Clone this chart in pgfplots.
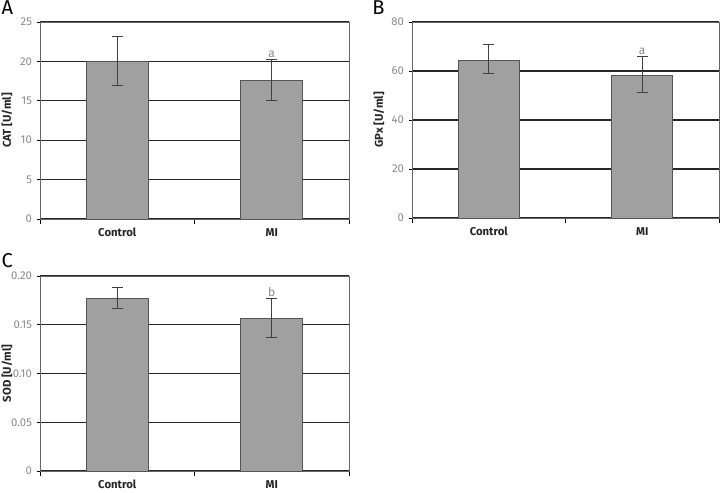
\documentclass[border=0pt]{standalone}
\usepackage{pgfplots}
\pgfplotsset{compat=1.18}
\usepackage{fontspec}
\setmainfont{Fira Sans}
\definecolor{barfill}{HTML}{A0A0A0}
\definecolor{bardraw}{HTML}{555555}
\definecolor{tickgray}{HTML}{8A8A8A}
\pgfplotsset{
  panel/.style={
    scale only axis,
    xmin=0, xmax=2, ymin=0,
    xtick={0.5,1.5},
    xticklabels={Control,MI},
    minor xtick={0,1,2},
    major x tick style={draw=none},
    minor x tick style={draw=black, line width=0.7pt},
    minor tick length=4pt,
    major tick length=2.5pt,
    tick align=outside,
    xtick pos=bottom, ytick pos=left,
    ymajorgrids,
    grid style={draw=black!85, line width=0.85pt},
    axis line style={draw=black!60, line width=0.7pt},
    y tick style={draw=black, line width=0.7pt},
    /pgf/number format/assume math mode=true,
    yticklabel style={font=\fontsize{8.5}{9}\selectfont, text=tickgray},
    xticklabel style={font=\fontsize{8.5}{10}\selectfont\bfseries, text=black!85, yshift=-1pt},
    every axis y label/.style={at={(rel axis cs:0,0.5)}, xshift=-24.75pt, rotate=90, anchor=center,
      font=\fontsize{8.5}{10}\selectfont\bfseries, text=black!85},
    ybar, bar width=0.4,
  },
  errs/.style={
    fill=barfill, draw=bardraw, line width=0.7pt,
    error bars/y dir=both, error bars/y explicit,
    error bars/error bar style={draw=black!75, line width=0.7pt},
    error bars/error mark options={rotate=90, mark size=4pt, draw=black!75, line width=0.7pt},
  },
}
\begin{document}
\begin{tikzpicture}
\useasboundingbox (0,0) rectangle (540pt,-369pt);
% Panel A
\begin{axis}[panel, at={(30pt,-164.25pt)}, anchor=south west,
  width=231.75pt, height=147.75pt, ymax=25, ytick={0,5,10,15,20,25},
  ylabel={CAT [U/ml]}]
\addplot[ybar, errs] coordinates {(0.5,20.0) += (0,3.2) -= (0,3.0)
                         (1.5,17.6) += (0,2.6) -= (0,2.6)};
\node[anchor=south, text=tickgray, font=\fontsize{9}{10}\selectfont, inner sep=1pt] at (axis cs:1.5,20.3) {a};
\end{axis}
\node[anchor=north west, font=\fontsize{15}{16}\selectfont, inner sep=0pt] at (1pt,-0.5pt) {A};
% Panel B
\begin{axis}[panel, at={(309pt,-163.5pt)}, anchor=south west,
  width=230.25pt, height=147pt, ymax=80, ytick={0,20,40,60,80},
  ylabel={GPx [U/ml]}]
\addplot[ybar, errs] coordinates {(0.5,64.2) += (0,6.6) -= (0,5.3)
                         (1.5,58.2) += (0,7.7) -= (0,7.0)};
\node[anchor=south, text=tickgray, font=\fontsize{9}{10}\selectfont, inner sep=1pt] at (axis cs:1.5,66.2) {a};
\end{axis}
\node[anchor=north west, font=\fontsize{15}{16}\selectfont, inner sep=0pt] at (279pt,-0.5pt) {B};
% Panel C
\begin{axis}[panel, at={(30pt,-353.25pt)}, anchor=south west,
  width=231.75pt, height=146.25pt, ymax=0.20, ytick={0,0.05,0.10,0.15,0.20},
  yticklabels={0,0.05,0.10,0.15,0.20},
  ylabel={SOD [U/ml]}]
\addplot[ybar, errs] coordinates {(0.5,0.177) += (0,0.011) -= (0,0.010)
                         (1.5,0.156) += (0,0.021) -= (0,0.019)};
\node[anchor=south, text=tickgray, font=\fontsize{9}{10}\selectfont, inner sep=1pt] at (axis cs:1.5,0.1775) {b};
\end{axis}
\node[anchor=north west, font=\fontsize{15}{16}\selectfont, inner sep=0pt] at (1pt,-190pt) {C};
\end{tikzpicture}
\end{document}
